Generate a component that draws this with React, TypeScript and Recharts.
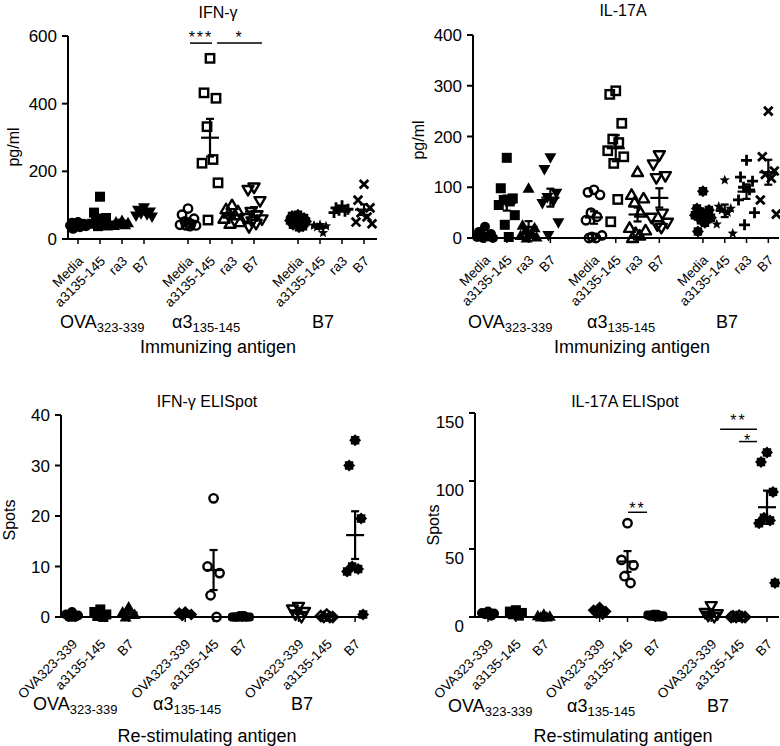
import React from "react"
import { ScatterChart, Scatter, XAxis, YAxis, ErrorBar, ReferenceLine } from "recharts"

const FONT = "'Liberation Sans', Arial, Helvetica, sans-serif"

// x tick labels
const immunTicks = ["Media", "a3135-145", "ra3", "B7"]
const restimTicks = ["OVA323-339", "a3135-145", "B7"]

// IFN-γ (pg/ml), per immunizing antigen: Media, a3135-145, ra3, B7
const ifnOva = [
  [50, 48, 45, 44, 42, 40, 38, 36, 35, 30],
  [125, 78, 62, 55, 50, 45, 40, 38],
  [55, 50, 48, 45, 42, 40],
  [92, 85, 80, 75, 72, 68, 65],
]
const ifnA3 = [
  [90, 72, 60, 52, 45, 42, 40, 40, 38],
  [534, 432, 416, 332, 235, 224, 166, 56],
  [100, 88, 82, 75, 70, 60, 50, 45],
  [152, 145, 112, 80, 70, 62, 58, 52, 45, 35],
]
const ifnB7 = [
  [72, 68, 62, 60, 58, 55, 52, 50, 46, 42, 38, 35],
  [42, 40, 38, 35, 18],
  [98, 92, 88, 85, 82, 78],
  [162, 115, 92, 78, 65, 50, 45],
]

// IL-17A (pg/ml)
const il17Ova = [
  [22, 12, 8, 5, 3, 2, 0, 0],
  [158, 98, 78, 75, 72, 65, 45, 26, 2],
  [98, 25, 20, 15, 10, 5, 2, 0],
  [158, 135, 88, 80, 72, 68, 30, 5],
]
const il17A3 = [
  [95, 90, 85, 50, 42, 35, 5, 2, 0, 0],
  [290, 283, 226, 195, 188, 172, 160, 147, 76, 32],
  [130, 85, 78, 70, 50, 20, 15, 10, 5, 0],
  [163, 145, 122, 118, 48, 40, 30, 25, 20],
]
const il17B7 = [
  [92, 58, 55, 52, 48, 45, 40, 35, 30, 13],
  [114, 62, 58, 55, 50, 27, 9],
  [153, 120, 112, 100, 95, 75, 50, 26],
  [250, 160, 132, 125, 118, 75, 47],
]

// IFN-γ ELISpot (spots), per re-stimulating antigen: OVA323-339, a3135-145, B7
const ifnSpotOva = [
  [1, 0.5, 0.3, 0, 0],
  [1.5, 1, 0.5, 0.2, 0],
  [2, 1, 0.5, 0],
]
const ifnSpotA3 = [
  [1, 0.8, 0.5, 0.3],
  [23.5, 10, 8.7, 4.3, 0],
  [0.3, 0, 0, 0, 0, 0],
]
const ifnSpotB7 = [
  [2, 1.5, 1, 0.5, 0],
  [0.5, 0.2, 0, 0, 0],
  [35, 30, 19.5, 10, 9.5, 9, 0.5],
]

// IL-17A ELISpot (spots)
const il17SpotOva = [
  [4, 3, 2.5, 2, 1],
  [5, 4, 3, 2, 1],
  [2, 1, 0.5, 0, 0],
]
const il17SpotA3 = [
  [7, 5, 4, 3, 2],
  [69, 42, 38, 30, 25],
  [2, 1.5, 1, 0.5, 0],
]
const il17SpotB7 = [
  [8, 3, 2, 1, 0],
  [1, 0.5, 0, 0, 0, 0],
  [121, 114, 92, 73, 71, 69, 25],
]

const immunKinds = ["circleF", "squareF", "triF", "triDownF", "circleO", "squareO", "triO", "triDownO", "gear", "star", "plus", "cross"]
const restimKinds = ["circleF", "squareF", "triF", "diamondF", "circleO", "pillF", "triDownO", "diamondO", "gear"]

// significance bars: slot range, y value, stars
const ifnSig = [
  { x1: 5.09, x2: 6.09, y: 579, text: "***" },
  { x1: 6.32, x2: 8.36, y: 579, text: "*" },
]
const il17SpotSig = [
  { x1: 5.02, x2: 5.7, y: 77, text: "**" },
  { x1: 8.32, x2: 9.64, y: 138, text: "**" },
  { x1: 9.0, x2: 9.64, y: 129, text: "*" },
]
// baseline shift of the stars relative to their bar
const ifnSigDy = [0, 0]
const il17SpotSigDy = [2, -3, 4]

const JIT = [0, -6, 6, -3, 3, -8, 8, -2, 2, -5, 5, 1]

function Marker(props: any) {
  const { cx, cy, payload } = props
  if (cx == null || cy == null) return null
  const x = cx + JIT[payload.j % JIT.length]
  const y = cy
  const k = payload.kind
  const sw = 2.4
  switch (k) {
    case "circleF":
      return <circle cx={x} cy={y} r={5} fill="#000" />
    case "circleO":
      return <circle cx={x} cy={y} r={4.2} fill="none" stroke="#000" strokeWidth={sw} />
    case "squareF":
      return <rect x={x - 5} y={y - 5} width={10} height={10} fill="#000" />
    case "squareO":
      return <rect x={x - 4.2} y={y - 4.2} width={8.4} height={8.4} fill="none" stroke="#000" strokeWidth={sw} />
    case "triF":
      return <polygon points={`${x},${y - 6} ${x - 6},${y + 4.5} ${x + 6},${y + 4.5}`} fill="#000" />
    case "triO":
      return <polygon points={`${x},${y - 5.5} ${x - 5.5},${y + 4} ${x + 5.5},${y + 4}`} fill="none" stroke="#000" strokeWidth={sw} strokeLinejoin="round" />
    case "triDownF":
      return <polygon points={`${x - 6},${y - 4.5} ${x + 6},${y - 4.5} ${x},${y + 6}`} fill="#000" />
    case "triDownO":
      return <polygon points={`${x - 5.5},${y - 4} ${x + 5.5},${y - 4} ${x},${y + 5.5}`} fill="none" stroke="#000" strokeWidth={sw} strokeLinejoin="round" />
    case "diamondF":
      return <polygon points={`${x},${y - 6} ${x + 6},${y} ${x},${y + 6} ${x - 6},${y}`} fill="#000" />
    case "diamondO":
      return <polygon points={`${x},${y - 5} ${x + 5},${y} ${x},${y + 5} ${x - 5},${y}`} fill="none" stroke="#000" strokeWidth={sw} />
    case "pillF":
      return <rect x={x - 6} y={y - 4.5} width={12} height={9} rx={3.5} fill="#000" />
    case "gear": {
      const pts: string[] = []
      for (let i = 0; i < 16; i++) {
        const r = i % 2 === 0 ? 6 : 4.6
        const a = (Math.PI * 2 * i) / 16
        pts.push(`${x + r * Math.cos(a)},${y + r * Math.sin(a)}`)
      }
      return <polygon points={pts.join(" ")} fill="#000" />
    }
    case "star": {
      const pts: string[] = []
      for (let i = 0; i < 10; i++) {
        const r = i % 2 === 0 ? 5.5 : 2.3
        const a = -Math.PI / 2 + (Math.PI * i) / 5
        pts.push(`${x + r * Math.cos(a)},${y + r * Math.sin(a)}`)
      }
      return <polygon points={pts.join(" ")} fill="#000" />
    }
    case "plus":
      return <path d={`M${x - 5.5},${y}H${x + 5.5}M${x},${y - 5.5}V${y + 5.5}`} stroke="#000" strokeWidth={2.8} />
    case "cross":
      return <path d={`M${x - 4.3},${y - 4.3}L${x + 4.3},${y + 4.3}M${x + 4.3},${y - 4.3}L${x - 4.3},${y + 4.3}`} stroke="#000" strokeWidth={2.8} />
  }
  return null
}

function MeanLine(props: any) {
  const { cx, cy } = props
  if (cx == null || cy == null) return null
  return <line x1={cx - 9} x2={cx + 9} y1={cy} y2={cy} stroke="#000" strokeWidth={2.2} />
}

function XTick(props: any) {
  const { x, y, payload, labels, dy } = props
  const per = labels.length
  const label = labels[payload.value % (per + 1)]
  return (
    <text transform={`translate(${x + 6},${y + dy}) rotate(-45)`} textAnchor="end" fontSize={13.5} fontFamily={FONT} fill="#000">
      {label}
    </text>
  )
}

function YTick(props: any) {
  const { x, y, payload, dy } = props
  return (
    <text x={x - 3} y={y + 6 + dy} textAnchor="end" fontSize={17} fontFamily={FONT} fill="#000">
      {payload.value}
    </text>
  )
}

function mean(v: number[]) {
  return v.reduce((a, b) => a + b, 0) / v.length
}
function sem(v: number[]) {
  const m = mean(v)
  const sd = Math.sqrt(v.reduce((a, b) => a + (b - m) * (b - m), 0) / (v.length - 1))
  return sd / Math.sqrt(v.length)
}

function Panel(p: any) {
  const per = p.labels.length
  const points: any[] = []
  const means: any[] = []
  const slots: number[] = []
  p.groups.forEach((grp: number[][], g: number) =>
    grp.forEach((vals, i) => {
      const slot = g * (per + 1) + i
      slots.push(slot)
      vals.forEach((v, j) => points.push({ x: slot, y: v, j, kind: p.kinds[g * per + i] }))
      means.push({ x: slot, y: mean(vals), sem: sem(vals) })
    })
  )
  return (
    <div style={{ position: "absolute", left: p.left, top: p.top }}>
      <ScatterChart width={p.width} height={p.height} margin={p.margin}>
        <XAxis
          type="number"
          dataKey="x"
          domain={p.xDomain}
          ticks={slots}
          interval={0}
          height={60}
          tickSize={5}
          axisLine={{ stroke: "#000", strokeWidth: 2 }}
          tickLine={{ stroke: "#000", strokeWidth: 1.5 }}
          tick={<XTick labels={p.labels} dy={p.xTickDy} />}
        />
        <YAxis
          type="number"
          dataKey="y"
          domain={[0, p.yMax]}
          ticks={p.yTicks}
          interval={0}
          width={40}
          tickSize={6}
          axisLine={{ stroke: "#000", strokeWidth: 2 }}
          tickLine={{ stroke: "#000", strokeWidth: 2 }}
          tick={<YTick dy={p.yTickDy || 0} />}
        />
        <Scatter data={points} shape={Marker} isAnimationActive={false} />
        <Scatter data={means} shape={MeanLine} isAnimationActive={false}>
          <ErrorBar dataKey="sem" direction="y" width={4} stroke="#000" strokeWidth={2.2} />
        </Scatter>
        {(p.sig || []).map((s: any, i: number) => (
          <ReferenceLine
            key={i}
            segment={[{ x: s.x1, y: s.y }, { x: s.x2, y: s.y }]}
            stroke="#000"
            strokeWidth={1.5}
            ifOverflow="visible"
            label={(lp: any) => {
              const vb = lp.viewBox || {}
              return (
                <text
                  x={vb.x + (vb.width || 0) / 2}
                  y={vb.y + p.sigDy[i]}
                  textAnchor="middle"
                  fontSize={16}
                  letterSpacing={2}
                  fontFamily={FONT}
                  fill="#000"
                >
                  {s.text}
                </text>
              )
            }}
          />
        ))}
      </ScatterChart>
    </div>
  )
}

function GroupLabels({ y, ova, a3, b7 }: any) {
  return (
    <g fontFamily={FONT} fill="#000">
      <text x={ova} y={y} fontSize={18}>
        OVA<tspan fontSize={13} dy={4}>323-339</tspan>
      </text>
      <text x={a3} y={y} fontSize={18}>
        α3<tspan fontSize={13} dy={4}>135-145</tspan>
      </text>
      <text x={b7} y={y} fontSize={18} textAnchor="middle">
        B7
      </text>
    </g>
  )
}

export default function App() {
  return (
    <div style={{ position: "absolute", left: 0, top: 0, width: 780, height: 746, background: "#fff", fontFamily: FONT }}>
      <Panel
        left={0}
        top={0}
        width={390}
        height={380}
        margin={{ top: 36, right: 13, left: 28, bottom: 81 }}
        groups={[ifnOva, ifnA3, ifnB7]}
        kinds={immunKinds}
        labels={immunTicks}
        xDomain={[-0.455, 13.59]}
        yMax={600}
        yTicks={[0, 200, 400, 600]}
        xTickDy={16}
        sig={ifnSig}
        sigDy={ifnSigDy}
      />
      <Panel
        left={390}
        top={0}
        width={390}
        height={380}
        margin={{ top: 35, right: 1, left: 43, bottom: 82 }}
        groups={[il17Ova, il17A3, il17B7]}
        kinds={immunKinds}
        labels={immunTicks}
        xDomain={[-0.55, 13.49]}
        yMax={400}
        yTicks={[0, 100, 200, 300, 400]}
        xTickDy={16}
      />
      <Panel
        left={0}
        top={380}
        width={390}
        height={366}
        margin={{ top: 35, right: 23, left: 21, bottom: 69 }}
        groups={[ifnSpotOva, ifnSpotA3, ifnSpotB7]}
        kinds={restimKinds}
        labels={restimTicks}
        xDomain={[-0.389, 10.42]}
        yMax={40}
        yTicks={[0, 10, 20, 30, 40]}
        xTickDy={21}
      />
      <Panel
        left={390}
        top={380}
        width={390}
        height={366}
        margin={{ top: 33, right: 1, left: 45, bottom: 69 }}
        groups={[il17SpotOva, il17SpotA3, il17SpotB7]}
        kinds={restimKinds}
        labels={restimTicks}
        xDomain={[-0.466, 10.43]}
        yMax={150}
        yTicks={[0, 50, 100, 150]}
        yTickDy={9}
        xTickDy={21}
        sig={il17SpotSig}
        sigDy={il17SpotSigDy}
      />
      <svg width={780} height={746} style={{ position: "absolute", left: 0, top: 0, pointerEvents: "none" }}>
        <g fontFamily={FONT} fill="#000" fontSize={16} textAnchor="middle">
          <text x={218} y={18}>IFN-γ</text>
          <text x={623} y={16}>IL-17A</text>
          <text x={207} y={407}>IFN-γ ELISpot</text>
          <text x={625} y={407}>IL-17A ELISpot</text>
          <text transform="translate(18.5,147) rotate(-90)">pg/ml</text>
          <text transform="translate(423.5,140) rotate(-90)">pg/ml</text>
          <text transform="translate(14.5,520) rotate(-90)">Spots</text>
          <text transform="translate(438.5,525) rotate(-90)">Spots</text>
        </g>
        <g fontFamily={FONT} fill="#000" fontSize={18} textAnchor="middle">
          <text x={218} y={353}>Immunizing antigen</text>
          <text x={632} y={353}>Immunizing antigen</text>
          <text x={207} y={742}>Re-stimulating antigen</text>
          <text x={623} y={742}>Re-stimulating antigen</text>
        </g>
        <GroupLabels y={328} ova={60} a3={172} b7={323} />
        <GroupLabels y={328} ova={468} a3={587} b7={727} />
        <GroupLabels y={710} ova={33} a3={153} b7={302} />
        <GroupLabels y={712} ova={448} a3={567} b7={718} />
      </svg>
    </div>
  )
}
